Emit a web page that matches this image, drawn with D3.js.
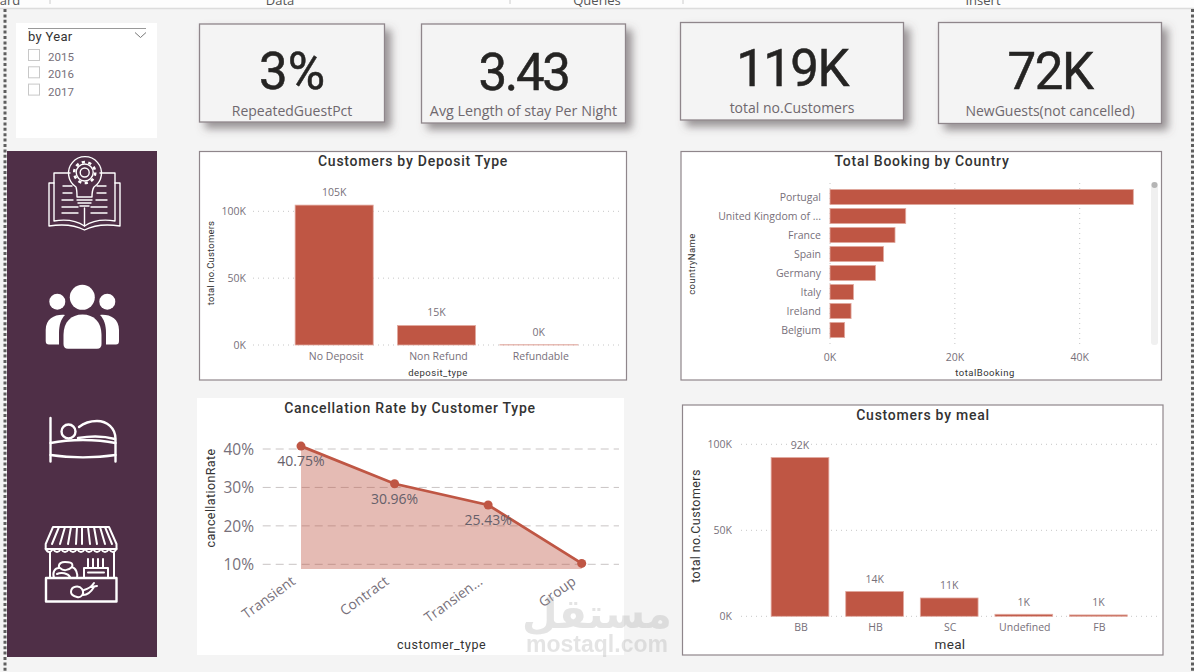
<!DOCTYPE html>
<html>
<head>
<meta charset="utf-8">
<script src="https://cdn.jsdelivr.net/npm/d3@7"></script>
<style>
  html, body { margin: 0; padding: 0; background: #f4f4f4; overflow: hidden; }
  svg { display: block; }
  text { font-family: "Open Sans", "Noto Sans", sans-serif; }
  .din { font-family: Roboto, "Noto Sans", sans-serif; }
</style>
</head>
<body>
<svg id="board" width="1194" height="672"></svg>
<script>
// Hotel bookings report: KPI cards, year slicer, navigation rail and four charts.
const yearOptions = ["2015", "2016", "2017"];

const kpiValues = ["3%", "3.43", "119K", "72K"];
const kpiLabels = ["RepeatedGuestPct", "Avg Length of stay Per Night", "total no.Customers", "NewGuests(not cancelled)"];

const depositTypes = ["No Deposit", "Non Refund", "Refundable"];
const depositCustomers = [104641, 14587, 162];
const depositTicks = [0, 50000, 100000];

const countries = ["Portugal", "United Kingdom of ...", "France", "Spain", "Germany", "Italy", "Ireland", "Belgium"];
const countryBookings = [48590, 12129, 10415, 8568, 7287, 3766, 3375, 2342];
const countryTicks = [0, 20000, 40000];

const customerTypes = ["Transient", "Contract", "Transien...", "Group"];
const cancellationRates = [40.75, 30.96, 25.43, 10.23];
const rateLabelled = [true, true, true, false];
const rateTicks = [10, 20, 30, 40];
const rateFloor = 8.8;

const meals = ["BB", "HB", "SC", "Undefined", "FB"];
const mealCustomers = [92310, 14463, 10650, 1169, 798];
const mealTicks = [0, 50000, 100000];

const menuTabs = ["ard", "Data", "Queries", "Insert"];

const RED = "#bf5644", EDGE = "#e2aaa0", GREY = "#77707a", DARK = "#333", PLUM = "#4f2f47", FRAME = "#8f868b";
const kFormat = v => Math.round(v / 1000) + "K";

const svg = d3.select("#board");
const defs = svg.append("defs");
const shadow = defs.append("filter").attr("id", "cardShadow")
  .attr("x", "-10%").attr("y", "-10%").attr("width", "125%").attr("height", "135%");
shadow.append("feDropShadow").attr("dx", 6).attr("dy", 6).attr("stdDeviation", 4)
  .attr("flood-color", "#5a5257").attr("flood-opacity", 0.6);

function label(g, x, y, str, o = {}) {
  return g.append("text")
    .attr("x", x).attr("y", y)
    .attr("text-anchor", o.anchor || "middle")
    .attr("dominant-baseline", "central")
    .attr("class", o.cls || null)
    .attr("font-size", o.size || 10)
    .attr("font-weight", o.weight || 400)
    .attr("letter-spacing", o.spacing || null)
    .attr("fill", o.fill || GREY)
    .text(str);
}

function rotatedLabel(g, x, y, str, o) {
  const t = label(g, 0, 0, str, o);
  t.attr("transform", `translate(${x},${y}) rotate(-90)`);
  return t;
}

// Menu strip along the top edge
(function drawChrome() {
  svg.append("rect").attr("width", 1194).attr("height", 8).attr("fill", "#fdfdfd");
  svg.append("line").attr("x1", 0).attr("x2", 1194).attr("y1", 8.5).attr("y2", 8.5)
    .attr("stroke", "#dcdcdc").attr("stroke-width", 1.5);
  const tabX = [10, 280, 597, 983];
  menuTabs.forEach((t, i) => label(svg, tabX[i], 0, t, { size: 13, fill: "#555" }));
  [50, 510, 683].forEach(x => svg.append("line")
    .attr("x1", x).attr("x2", x).attr("y1", 0).attr("y2", 4).attr("stroke", "#ccc"));
  [5, 1192.5].forEach(x => svg.append("line")
    .attr("x1", x).attr("x2", x).attr("y1", 9).attr("y2", 672)
    .attr("stroke", "#5e5e5e").attr("stroke-width", 3).attr("stroke-dasharray", "3 2.4"));
})();

// Year slicer
(function drawSlicer() {
  const g = svg.append("g");
  g.append("rect").attr("x", 16).attr("y", 23).attr("width", 141).attr("height", 115).attr("fill", "#fff");
  g.append("line").attr("x1", 28).attr("x2", 146).attr("y1", 28.5).attr("y2", 28.5).attr("stroke", "#9a9a9a");
  label(g, 28, 36.5, "by Year", { anchor: "start", size: 13, fill: "#333", cls: "din", spacing: 0.3 });
  g.append("path").attr("d", "M135 32.5l5.5 5 5.5-5").attr("fill", "none").attr("stroke", "#777");
  yearOptions.forEach((y, i) => {
    const cy = 55.5 + i * 17.3;
    g.append("rect").attr("x", 28.5).attr("y", cy - 6).attr("width", 11).attr("height", 11)
      .attr("fill", "#fff").attr("stroke", "#c8c8c8");
    label(g, 48, cy + 1.5, y, { anchor: "start", size: 11.5, fill: "#77707a", cls: "din" });
  });
})();

// KPI cards
const cardBoxes = [
  { x: 199.5, y: 24, w: 185, h: 98, valueY: 71, labelY: 110.5, track: 0, labelSize: 14 },
  { x: 421.5, y: 24, w: 204, h: 99, valueY: 72, labelY: 110.5, track: -2.4, labelSize: 14.3 },
  { x: 680.5, y: 22.5, w: 223, h: 97.5, valueY: 68, labelY: 107.5, track: -1.6, labelSize: 14 },
  { x: 938.5, y: 22.5, w: 223, h: 101, valueY: 71, labelY: 110, track: -1.4, labelSize: 14 }
];
cardBoxes.forEach((b, i) => {
  const g = svg.append("g");
  g.append("rect").attr("x", b.x).attr("y", b.y).attr("width", b.w).attr("height", b.h)
    .attr("fill", "#f4f4f4").attr("stroke", FRAME).attr("stroke-width", 1.3).attr("filter", "url(#cardShadow)");
  label(g, b.x + b.w / 2, b.valueY, kpiValues[i], { size: 51, fill: "#252423", cls: "din", spacing: b.track })
    .attr("stroke", "#252423").attr("stroke-width", 0.5);
  label(g, b.x + b.w / 2, b.labelY, kpiLabels[i], { size: b.labelSize, fill: "#6f686e" });
});

// Navigation rail with line icons
(function drawRail() {
  svg.append("rect").attr("x", 7).attr("y", 151).attr("width", 150).attr("height", 506).attr("fill", PLUM);
  const line = svg.append("g").attr("fill", "none").attr("stroke", "#fff").attr("stroke-linecap", "round").attr("stroke-linejoin", "round");

  // book with a light bulb and gear
  const book = line.append("g").attr("stroke-width", 1.4);
  book.append("path").attr("d", "M70 173H54V221C66 219 77 221 84.5 226C92 221 103 219 115 221V173H100");
  book.append("path").attr("d", "M54 183H49V226C62 224 75 225 84.5 230C94 225 107 224 120 226V183H115");
  book.append("path").attr("d", "M84.5 226V208");
  book.append("path").attr("d", "M76 187A16.5 16.5 0 1 1 94 187C92 190 92 193 92 197H77C77 193 77 190 76 187Z");
  book.append("path").attr("d", "M77 200H92M78 203H91M80 206H89");
  book.append("circle").attr("cx", 84.7).attr("cy", 172.5).attr("r", 4.5);
  book.append("circle").attr("cx", 84.7).attr("cy", 172.5).attr("r", 8.5);
  book.append("circle").attr("cx", 84.7).attr("cy", 172.5).attr("r", 10.5).attr("stroke-dasharray", "3.2 3.4").attr("stroke-width", 2.6).attr("stroke-linecap", "butt");
  book.append("path").attr("d", "M63 186H72M63 193H72M62 200H73M62 207H78M62 213H78M97 186H106M97 193H106M96 200H107M91 207H107M91 213H107");

  // three people
  const people = svg.append("g").attr("fill", "#fff");
  [[82.3, 297.3, 12.5], [57.3, 301.7, 8], [107.3, 301.7, 8]].forEach(([x, y, r]) =>
    people.append("circle").attr("cx", x).attr("cy", y).attr("r", r));
  people.append("path").attr("d", "M63.5 335C63.5 322 71 314.5 82.5 314.5C94 314.5 101.5 322 101.5 335V344Q101.5 348.7 97 348.7H68Q63.5 348.7 63.5 344Z");
  people.append("path").attr("d", "M65 315C56 314 45.7 318 45.7 330V341Q45.7 344.5 49 344.5H59V333C59 325 61 319 65 315Z");
  people.append("path").attr("d", "M100 315C109 314 119 318 119 330V341Q119 344.5 116 344.5H106V333C106 325 104 319 100 315Z");

  // bed
  const bed = line.append("g").attr("stroke-width", 2.4);
  bed.append("path").attr("d", "M50.5 418V461.5M115.5 461.5V439C115.5 428 107 421 97 421C91 421 84 423 79 427");
  bed.append("path").attr("d", "M50.5 443C70 439 96 439 115.5 443M50.5 455C70 458 96 458 115.5 455");
  bed.append("circle").attr("cx", 68.5).attr("cy", 431.5).attr("r", 7);
  bed.append("path").attr("d", "M78 438C90 436 104 436 115 439");

  // market stall
  const stall = line.append("g").attr("stroke-width", 2);
  stall.append("path").attr("d", "M53 527H109L116.5 544V549H45.7V544Z");
  stall.append("path").attr("d", "M59 527L52 544M65 527L60 544M71 527L68 544M77 527L76 544M82 527V544M88 527L90 544M94 527L97 544M100 527L105 544M105 527L112 544");
  stall.append("path").attr("d", "M45.7 549Q49 555 53 549Q57 555 61 549Q65 555 69 549Q73 555 77 549Q81 555 85 549Q89 555 93 549Q97 555 101 549Q105 555 109 549Q113 555 116.5 549");
  stall.append("path").attr("d", "M50 552V578M114 552V578");
  stall.append("rect").attr("x", 46).attr("y", 578).attr("width", 70.5).attr("height", 23.5).attr("stroke-width", 2.4);
  stall.append("path").attr("d", "M84 568H108V578H84ZM88 572.5H104M88 568V559M93 568V559M98 568V559M103 568V559");
  stall.append("path").attr("d", "M54 578C52 572 55 568 59 568C58 563 62 562 65 562C68 562 74 562 72 567C76 568 78 574 77 578");
  stall.append("path").attr("d", "M60 568C63 571 68 571 72 567M57 574C61 572 68 573 70 577");
  stall.append("path").attr("d", "M71 592C71 586 79 585 82 589C85 594 81 598 77 597C73 596 71 595 71 592ZM84 590C88 589 92 586 94 583M91 587L97 586M83 595C87 595 91 592 94 587");
})();

function panel(x, y, w, h, title, titleX, titleY, framed) {
  const g = svg.append("g");
  const r = g.append("rect").attr("x", x).attr("y", y).attr("width", w).attr("height", h).attr("fill", "#fff");
  if (framed) r.attr("stroke", FRAME).attr("stroke-width", 1.2);
  label(g, titleX, titleY, title, { size: 14, fill: DARK, cls: "din", weight: 500, spacing: 0.75 });
  return g;
}

function dottedGrid(g, x1, x2, y1, y2) {
  g.append("line").attr("x1", x1).attr("x2", x2).attr("y1", y1).attr("y2", y2)
    .attr("stroke", "#c6c6c6").attr("stroke-dasharray", "1 4");
}

function columnChart(g, cats, vals, ticks, geom, font) {
  const x = d3.scaleBand().domain(cats).range(geom.band).paddingInner(geom.pad).paddingOuter(geom.pad / 2);
  const y = d3.scaleLinear().domain([0, 100000]).range(geom.yRange);
  ticks.forEach(t => {
    dottedGrid(g, geom.grid[0], geom.grid[1], y(t), y(t));
    label(g, geom.tickX, y(t), kFormat(t), { anchor: "end", size: font.tick });
  });
  g.selectAll("rect.bar").data(vals).join("rect").attr("class", "bar")
    .attr("x", (d, i) => x(cats[i]))
    .attr("y", d => y(d))
    .attr("width", x.bandwidth())
    .attr("height", d => y(0) - y(d))
    .attr("fill", RED).attr("stroke", EDGE).attr("stroke-width", 0.8);
  vals.forEach((v, i) => {
    const cx = x(cats[i]) + x.bandwidth() / 2;
    label(g, cx, y(v) - font.valueGap, kFormat(v), { size: font.value });
    label(g, cx + font.catNudge, geom.catY, cats[i], { size: font.cat });
  });
}

// Customers by deposit type
(function () {
  const g = panel(199.5, 151.5, 427, 228.5, "Customers by Deposit Type", 413, 161, true);
  columnChart(g, depositTypes, depositCustomers, depositTicks,
    { band: [283, 590], pad: 0.237, yRange: [345, 211.3], grid: [253, 622], tickX: 246, catY: 356 },
    { tick: 10.5, value: 10.5, cat: 10.5, valueGap: 13, catNudge: 2 });
  label(g, 438, 372, "deposit_type", { size: 9.5, fill: DARK, cls: "din", spacing: 0.5 });
  rotatedLabel(g, 210, 263, "total no.Customers", { size: 9.5, fill: DARK, cls: "din", spacing: 0.2 });
})();

// Total booking by country
(function () {
  const g = panel(681, 151.5, 480.5, 228.5, "Total Booking by Country", 922, 161, true);
  const x = d3.scaleLinear().domain([0, 40000]).range([830, 1079.7]);
  const y = d3.scaleBand().domain(countries).range([187.5, 339.5]).paddingInner(0.2).paddingOuter(0.1);
  countryTicks.forEach(t => {
    dottedGrid(g, x(t), x(t), 183, 345);
    label(g, x(t), 357, kFormat(t), { size: 10.5 });
  });
  g.selectAll("rect.bar").data(countryBookings).join("rect").attr("class", "bar")
    .attr("x", x(0))
    .attr("y", (d, i) => y(countries[i]))
    .attr("width", d => x(d) - x(0))
    .attr("height", y.bandwidth())
    .attr("fill", RED).attr("stroke", EDGE).attr("stroke-width", 0.8);
  countries.forEach(c => label(g, 821, y(c) + y.bandwidth() / 2, c, { anchor: "end", size: 10.5 }));
  label(g, 985, 372, "totalBooking", { size: 9.5, fill: DARK, cls: "din", spacing: 0.5 });
  rotatedLabel(g, 691.5, 264, "countryName", { size: 9.5, fill: DARK, cls: "din", spacing: 0.4 });
  g.append("rect").attr("x", 1151).attr("y", 182).attr("width", 7).attr("height", 163).attr("rx", 3).attr("fill", "#f0f0f0");
  g.append("circle").attr("cx", 1154.5).attr("cy", 185).attr("r", 3).attr("fill", "#b5b5b5");
})();

// Cancellation rate by customer type
(function () {
  const g = panel(197, 398, 427, 257, "Cancellation Rate by Customer Type", 410, 408, false);
  const x = d3.scalePoint().domain(customerTypes).range([301, 581.7]);
  const y = d3.scaleLinear().domain([10, 40]).range([564.3, 449]);
  rateTicks.forEach(t => {
    g.append("line").attr("x1", 262.7).attr("x2", 619).attr("y1", y(t)).attr("y2", y(t))
      .attr("stroke", "#c9c4c4").attr("stroke-dasharray", "8 5");
    label(g, 254, y(t), t + "%", { anchor: "end", size: 15.5 });
  });
  const area = d3.area().x((d, i) => x(customerTypes[i])).y0(y(rateFloor)).y1(d => y(d));
  const line = d3.line().x((d, i) => x(customerTypes[i])).y(d => y(d));
  g.append("path").attr("d", area(cancellationRates)).attr("fill", RED).attr("fill-opacity", 0.4);
  g.append("path").attr("d", line(cancellationRates)).attr("fill", "none").attr("stroke", RED).attr("stroke-width", 2.8);
  g.selectAll("circle.pt").data(cancellationRates).join("circle").attr("class", "pt")
    .attr("cx", (d, i) => x(customerTypes[i])).attr("cy", d => y(d)).attr("r", 4.5).attr("fill", RED);
  cancellationRates.forEach((v, i) => {
    if (rateLabelled[i]) label(g, x(customerTypes[i]), y(v) + 14.5, v.toFixed(2) + "%", { size: 14, fill: "#66606a" });
    const t = label(g, 0, 0, customerTypes[i], { anchor: "end", size: 14 });
    t.attr("transform", `translate(${x(customerTypes[i]) - 8},${y(rateFloor) + 10}) rotate(-36)`);
  });
  label(g, 441.5, 644, "customer_type", { size: 12.5, fill: DARK, cls: "din", spacing: 0.55 });
  rotatedLabel(g, 210.5, 498, "cancellationRate", { size: 12.5, fill: DARK, cls: "din", spacing: 0.4 });
})();

// Customers by meal
(function () {
  const g = panel(682.5, 405, 480.5, 250, "Customers by meal", 923, 415, true);
  columnChart(g, meals, mealCustomers, mealTicks,
    { band: [762.7, 1135.7], pad: 0.226, yRange: [616.3, 444.3], grid: [741, 1160], tickX: 732, catY: 626.5 },
    { tick: 10.5, value: 10.5, cat: 10.5, valueGap: 12.5, catNudge: 1 });
  label(g, 950, 644, "meal", { size: 13.5, fill: DARK, cls: "din", spacing: 0.3 });
  rotatedLabel(g, 695.5, 526, "total no.Customers", { size: 12.5, fill: DARK, cls: "din", spacing: 0.4 });
})();

// Publisher mark in the lower right of the report
(function () {
  const g = svg.append("g").attr("opacity", 0.3);
  g.append("text").attr("x", 597).attr("y", 628).attr("text-anchor", "middle")
    .attr("font-size", 41).attr("font-weight", 700).attr("fill", "#a8a8a8")
    .style("font-family", '"DejaVu Sans", sans-serif').text("مستقل");
  g.append("text").attr("x", 597).attr("y", 652).attr("text-anchor", "middle")
    .attr("font-size", 23).attr("font-weight", 700).attr("fill", "#a8a8a8")
    .style("font-family", '"Liberation Sans", sans-serif').text("mostaql.com");
})();
</script>
</body>
</html>
